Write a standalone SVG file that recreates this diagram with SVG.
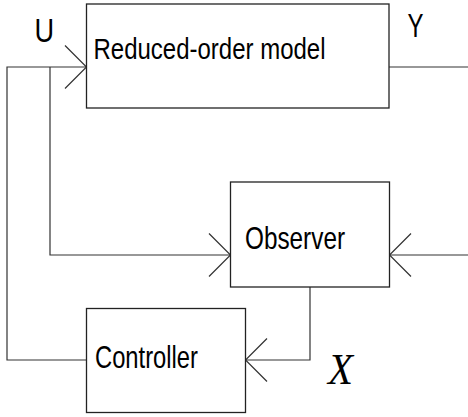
<svg xmlns="http://www.w3.org/2000/svg" width="468" height="417" viewBox="0 0 468 417">
  <style>
    .box { fill: #fff; stroke: #222; stroke-width: 1.3; }
    .wire { fill: none; stroke: #333; stroke-width: 1.2; }
    .lbl { font-family: "Liberation Sans", Arial, sans-serif; fill: #000; }
    .var { font-family: "Liberation Serif", "Times New Roman", serif; font-style: italic; fill: #000; }
  </style>
  <defs>
    <!-- open V arrowhead -->
    <marker id="vee" markerUnits="userSpaceOnUse" markerWidth="30" markerHeight="50" viewBox="-25 -25 30 50" refX="0" refY="0" orient="auto" overflow="visible">
      <path d="M-21.5,-21.5 L0,0 L-21.5,21.5" fill="none" stroke="#333" stroke-width="1.2"/>
    </marker>
  </defs>

  <g id="connectors">
    <!-- controller output fed back to the model input -->
    <path class="wire" d="M86.5,360 H7 V67 H86.5" marker-end="url(#vee)"/>
    <!-- branch of U into the observer -->
    <path class="wire" d="M50,67 V255 H230.5" marker-end="url(#vee)"/>
    <!-- model output Y -->
    <path class="wire" d="M389,67 H468"/>
    <!-- measured input into the observer -->
    <path class="wire" d="M468,255 H389.5" marker-end="url(#vee)"/>
    <!-- observer estimate into the controller -->
    <path class="wire" d="M310,287 V360 H245.5" marker-end="url(#vee)"/>
  </g>

  <g id="model">
    <rect class="box" x="86.5" y="4" width="302.5" height="104"/>
    <text class="lbl" x="93.5" y="59" font-size="29" textLength="232" lengthAdjust="spacingAndGlyphs">Reduced-order model</text>
  </g>

  <g id="observer">
    <rect class="box" x="230.5" y="182" width="159" height="105"/>
    <text class="lbl" x="245" y="249" font-size="32" textLength="100" lengthAdjust="spacingAndGlyphs">Observer</text>
  </g>

  <g id="controller">
    <rect class="box" x="86.5" y="308.5" width="159" height="104"/>
    <text class="lbl" x="95" y="368" font-size="32" textLength="103" lengthAdjust="spacingAndGlyphs">Controller</text>
  </g>

  <g id="labels">
    <text class="lbl" x="34.5" y="42" font-size="34" textLength="19.6" lengthAdjust="spacingAndGlyphs">U</text>
    <text class="lbl" x="407.5" y="37" font-size="34" textLength="16" lengthAdjust="spacingAndGlyphs">Y</text>
    <text class="var" x="328" y="384" font-size="44" textLength="25" lengthAdjust="spacingAndGlyphs">X</text>
  </g>
</svg>
